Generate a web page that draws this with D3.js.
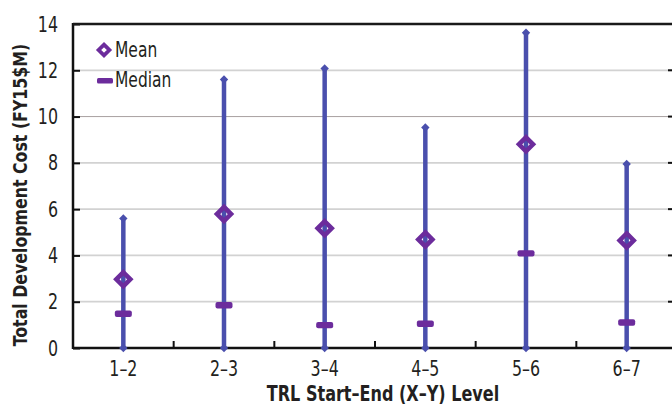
<!DOCTYPE html>
<html>
<head>
<meta charset="utf-8">
<script src="https://cdn.jsdelivr.net/npm/d3@7"></script>
<style>
  html, body { margin: 0; padding: 0; background: #fff; }
  svg { display: block; }
  text { font-family: "DejaVu Sans Condensed", "DejaVu Sans", sans-serif; font-stretch: condensed; fill: #231f20; }
</style>
</head>
<body>
<svg id="chart" width="672" height="405"></svg>
<script>
// TRL transition ranges
const categories = ["1\u20132", "2\u20133", "3\u20134", "4\u20135", "5\u20136", "6\u20137"];
const minCost    = [0, 0, 0, 0, 0, 0];
const maxCost    = [5.6, 11.6, 12.08, 9.53, 13.62, 7.95];
const meanCost   = [2.97, 5.79, 5.17, 4.69, 8.8, 4.65];
const medianCost = [1.48, 1.85, 0.99, 1.05, 4.09, 1.1];
const yTicks     = [0, 2, 4, 6, 8, 10, 12, 14];

const svg = d3.select("#chart");
const m = { left: 73, top: 24, bottom: 348, right: 677 };

const x = d3.scaleBand().domain(categories).range([m.left, m.right]);
const y = d3.scaleLinear().domain([0, 14]).range([m.bottom, m.top]);

const whiskerColor = "#4a4fad";
const markColor = "#6c2c9c";
const FONT = "DejaVu Sans Condensed, DejaVu Sans, sans-serif";
const SX = 0.84; // horizontal squeeze for a narrow, tall type look

// gridlines
svg.append("g")
  .selectAll("line")
  .data(yTicks.filter(d => d > 0 && d < 14))
  .join("line")
  .attr("x1", m.left).attr("x2", 672)
  .attr("y1", d => y(d)).attr("y2", d => y(d))
  .attr("stroke", d => d === 10 ? "#a8a0a0" : "#d2d2d2")
  .attr("stroke-width", d => d === 10 ? 1 : 1.8);

// left axis
const yAxis = svg.append("g")
  .attr("transform", `translate(${m.left},0)`)
  .call(d3.axisLeft(y).tickValues(yTicks).tickSize(-7).tickPadding(15).tickFormat(d3.format("d")));
yAxis.select(".domain").remove();
yAxis.selectAll(".tick line").attr("stroke", "#111").attr("stroke-width", 2);
yAxis.selectAll(".tick text")
  .attr("font-size", 21).attr("font-family", FONT).style("font-stretch", "condensed")
  .attr("x", -15 / SX).attr("dy", "0.34em")
  .attr("transform", `scale(${SX},1)`);

// right-edge ticks
svg.append("g")
  .selectAll("line")
  .data(yTicks.filter(d => d > 0 && d < 14))
  .join("line")
  .attr("x1", 668).attr("x2", 672)
  .attr("y1", d => y(d)).attr("y2", d => y(d))
  .attr("stroke", "#111").attr("stroke-width", 2);

// frame: left, top, bottom
svg.append("line").attr("x1", m.left).attr("x2", m.left).attr("y1", m.top - 1).attr("y2", m.bottom + 1)
  .attr("stroke", "#111").attr("stroke-width", 2.5);
svg.append("line").attr("x1", m.left).attr("x2", 672).attr("y1", m.top).attr("y2", m.top)
  .attr("stroke", "#1a1a1a").attr("stroke-width", 2.5);
svg.append("line").attr("x1", m.left).attr("x2", 672).attr("y1", m.bottom).attr("y2", m.bottom)
  .attr("stroke", "#111").attr("stroke-width", 2.5);

// bottom axis: labels and between-category ticks
const xAxis = svg.append("g")
  .attr("transform", `translate(0,${m.bottom})`)
  .call(d3.axisBottom(x).tickSize(0).tickPadding(13));
xAxis.select(".domain").remove();
xAxis.selectAll(".tick text")
  .attr("font-size", 21).attr("font-family", FONT).style("font-stretch", "condensed")
  .attr("transform", `scale(${SX},1)`);

svg.append("g")
  .selectAll("line")
  .data(categories.slice(1))
  .join("line")
  .attr("x1", d => x(d)).attr("x2", d => x(d))
  .attr("y1", m.bottom - 7).attr("y2", m.bottom)
  .attr("stroke", "#111").attr("stroke-width", 2);

const cx = i => x(categories[i]) + x.bandwidth() / 2;

// range whiskers
const rows = categories.map((c, i) => ({ c, i, lo: minCost[i], hi: maxCost[i], mean: meanCost[i], med: medianCost[i] }));
const g = svg.append("g");
g.selectAll("line.whisker")
  .data(rows)
  .join("line")
  .attr("class", "whisker")
  .attr("x1", d => cx(d.i)).attr("x2", d => cx(d.i))
  .attr("y1", d => y(d.lo)).attr("y2", d => y(d.hi))
  .attr("stroke", whiskerColor).attr("stroke-width", 4.5);

// small diamond caps at the ends
const capSym = d3.symbol().type(d3.symbolDiamond2).size(45);
g.selectAll("path.cap")
  .data(rows.flatMap(d => [{ i: d.i, v: d.hi }, { i: d.i, v: d.lo }]))
  .join("path")
  .attr("class", "cap")
  .attr("d", capSym)
  .attr("transform", d => `translate(${cx(d.i)},${y(d.v)})`)
  .attr("fill", whiskerColor);

// medians
g.selectAll("rect.median")
  .data(rows)
  .join("rect")
  .attr("class", "median")
  .attr("x", d => cx(d.i) - 8.5).attr("y", d => y(d.med) - 3.2)
  .attr("width", 17).attr("height", 6.4).attr("rx", 2)
  .attr("fill", markColor);

// means: hollow diamonds
const meanSym = d3.symbol().type(d3.symbolDiamond2).size(125);
g.selectAll("path.mean")
  .data(rows)
  .join("path")
  .attr("class", "mean")
  .attr("d", meanSym)
  .attr("transform", d => `translate(${cx(d.i)},${y(d.mean)})`)
  .attr("fill", "none")
  .attr("stroke", markColor).attr("stroke-width", 4.6);

// legend
const lg = svg.append("g");
lg.append("path").attr("d", d3.symbol().type(d3.symbolDiamond2).size(75))
  .attr("transform", "translate(104,50)")
  .attr("fill", "#fff").attr("stroke", markColor).attr("stroke-width", 3.8);
lg.append("text").attr("transform", `translate(115,57) scale(${SX},1)`)
  .attr("font-size", 20.5).text("Mean");
lg.append("rect").attr("x", 97).attr("y", 78).attr("width", 16).attr("height", 5.5).attr("rx", 1.5).attr("fill", markColor);
lg.append("text").attr("transform", `translate(115,87) scale(${SX},1)`)
  .attr("font-size", 20.5).text("Median");

// axis titles
svg.append("text")
  .attr("transform", `translate(383,401) scale(0.85,1)`)
  .attr("text-anchor", "middle")
  .attr("font-size", 21).attr("font-weight", "bold")
  .text("TRL Start\u2013End (X\u2013Y) Level");

svg.append("text")
  .attr("transform", "translate(27,195) rotate(-90) scale(0.9,1)")
  .attr("text-anchor", "middle")
  .attr("font-size", 19.5).attr("font-weight", "bold")
  .text("Total Development Cost (FY15$M)");
</script>
</body>
</html>
